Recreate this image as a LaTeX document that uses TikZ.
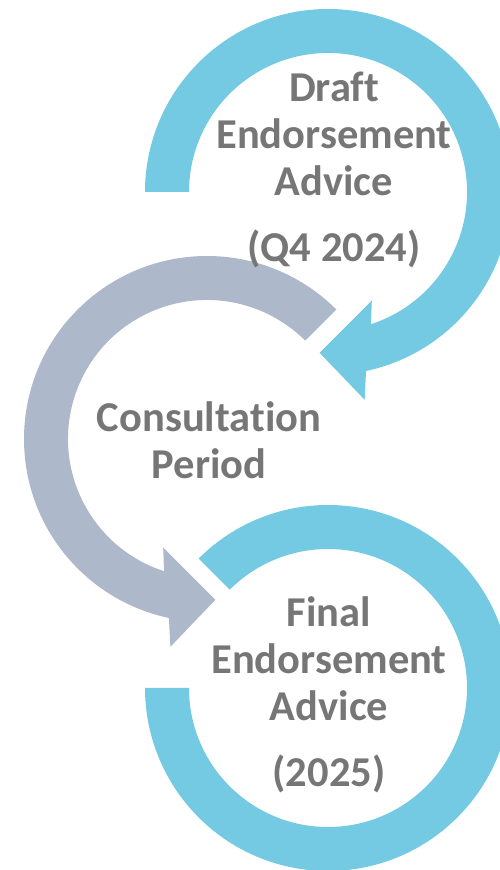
\documentclass[tikz,border=0pt]{standalone}
\usepackage{fontspec}
\setmainfont{Carlito}[Ligatures=NoCommon]
\usepackage{tikz}

\definecolor{loopblue}{HTML}{75CAE3}
\definecolor{loopgrey}{HTML}{ADB8CA}
\definecolor{labelgrey}{HTML}{767676}

\tikzset{
  steptext/.style={align=center, inner sep=0pt, text=labelgrey,
    font=\bfseries\fontsize{24.2}{26.8}\selectfont},
}

\begin{document}
\begin{tikzpicture}[x=0.02cm,y=0.02cm]
\useasboundingbox (0,0) rectangle (500,870);

% top loop, runs clockwise from the left
\begin{scope}[shift={(328,678)}]
\fill[loopblue] (180:183) arc[start angle=180, end angle=-78, radius=183]
  -- (-80:211) -- (-93:161) -- (-68:117) -- (-72:139)
  arc[start angle=-72, end angle=180, radius=139] -- cycle;
\end{scope}

% middle loop, runs the other way
\begin{scope}[shift={(207,431)}]
\fill[loopgrey] (45:183) arc[start angle=45, end angle=258, radius=183]
  -- (260:211) -- (273:161) -- (248:117) -- (252:139)
  arc[start angle=252, end angle=45, radius=139] -- cycle;
\end{scope}

% bottom loop, open ring
\begin{scope}[shift={(328,182)}]
\fill[loopblue] (135:183) arc[start angle=135, end angle=-180, radius=183]
  -- (180:139) arc[start angle=-180, end angle=135, radius=139] -- cycle;
\end{scope}

\node[steptext] (draft) at (334,700) {Draft\\Endorsement\\Advice\\[10.5pt](Q4 2024)};
\node[steptext] (consult) at (209,430) {Consultation\\Period};
\node[steptext] (final) at (329,175) {Final\\Endorsement\\Advice\\[10.8pt](2025)};
\end{tikzpicture}
\end{document}
